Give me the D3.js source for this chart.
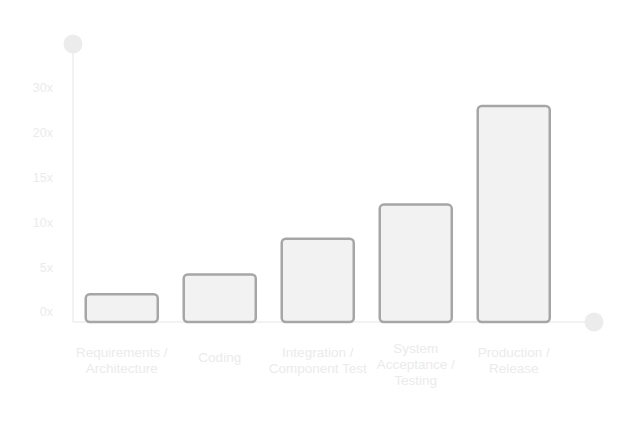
<!DOCTYPE html>
<html>
<head>
<meta charset="utf-8">
<script src="https://d3js.org/d3.v7.min.js"></script>
<style>
body { margin: 0; background: #fff; }
svg text { font-family: "Liberation Sans", Arial, sans-serif; fill: #ebebeb; }
.ylab text { font-size: 12.5px; }
.xlab text { font-size: 13.5px; }
</style>
</head>
<body>
<script>

// phases and relative cost
var phases = ["Requirements / Architecture", "Coding", "Integration / Component Test",
              "System Acceptance / Testing", "Production / Release"];
var phaseLines = [["Requirements /", "Architecture"], ["Coding"], ["Integration /", "Component Test"],
                  ["System", "Acceptance /", "Testing"], ["Production /", "Release"]];
var cost = [3.1, 5.3, 9.3, 13.1, 24.1];

var tickValues = [0, 5, 10, 15, 20, 25];
var tickLabels = ["0x", "5x", "10x", "15x", "20x", "30x"];

var width = 640, height = 425;

var svg = d3.select("body").append("svg")
    .attr("width", width)
    .attr("height", height);

var x = d3.scaleBand()
    .domain(phases)
    .range([73, 562.5])
    .paddingInner(0.265)
    .paddingOuter(0.13);

var y = d3.scaleLinear()
    .domain([0, 25])
    .range([322, 98]);

// axis lines with round knobs
svg.append("line")
    .attr("x1", 73).attr("x2", 73)
    .attr("y1", 44).attr("y2", y(0))
    .style("stroke", "#eeeeee").style("stroke-width", 1.5);

svg.append("line")
    .attr("x1", 73).attr("x2", 594)
    .attr("y1", y(0)).attr("y2", y(0))
    .style("stroke", "#eeeeee").style("stroke-width", 1.5);

svg.append("circle")
    .attr("cx", 73).attr("cy", 44).attr("r", 9.5)
    .style("fill", "#ececec");

svg.append("circle")
    .attr("cx", 594).attr("cy", y(0)).attr("r", 9.5)
    .style("fill", "#ececec");

// y tick labels
svg.append("g")
    .attr("class", "ylab")
  .selectAll("text")
    .data(tickValues)
  .enter().append("text")
    .attr("x", 53)
    .attr("y", function(d) { return y(d) - 10; })
    .attr("dy", "0.35em")
    .attr("text-anchor", "end")
    .text(function(d, i) { return tickLabels[i]; });

// bars
svg.append("g")
  .selectAll("rect")
    .data(cost)
  .enter().append("rect")
    .attr("x", function(d, i) { return x(phases[i]); })
    .attr("width", x.bandwidth())
    .attr("y", function(d) { return y(d); })
    .attr("height", function(d) { return y(0) - y(d); })
    .attr("rx", 4)
    .style("fill", "#f2f2f2")
    .style("stroke", "#a6a6a6")
    .style("stroke-width", 2.5);

// x labels
var xl = svg.append("g")
    .attr("class", "xlab")
  .selectAll("text")
    .data(phases)
  .enter().append("text")
    .attr("text-anchor", "middle")
    .attr("transform", function(d, i) {
      var n = phaseLines[i].length;
      return "translate(" + (x(d) + x.bandwidth() / 2) + "," + (357 - 4.5 * (n - 1)) + ")";
    });

xl.selectAll("tspan")
    .data(function(d, i) { return phaseLines[i]; })
  .enter().append("tspan")
    .attr("x", 0)
    .attr("y", function(d, i) { return i * 16; })
    .attr("dy", "0.35em")
    .text(function(d) { return d; });

</script>
</body>
</html>
